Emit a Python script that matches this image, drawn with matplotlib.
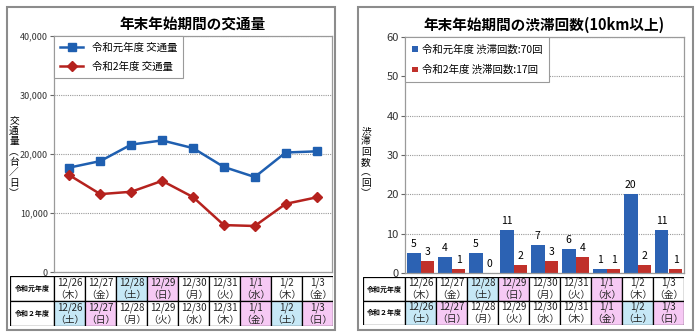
import matplotlib
matplotlib.use("Agg")
import matplotlib.pyplot as plt
from matplotlib.patches import Rectangle
from matplotlib.ticker import FuncFormatter

plt.rcParams['font.family'] = ['Noto Sans CJK JP', 'DejaVu Sans']

dates = ["12/26", "12/27", "12/28", "12/29", "12/30", "12/31", "1/1", "1/2", "1/3"]
days_r1 = ["木", "金", "土", "日", "月", "火", "水", "木", "金"]
days_r2 = ["土", "日", "月", "火", "水", "木", "金", "土", "日"]
# cell shading: 0 none, 1 blue (sat), 2 pink (sun/holiday)
shade_r1 = [0, 0, 1, 2, 0, 0, 2, 0, 0]
shade_r2 = [1, 2, 0, 0, 0, 0, 2, 1, 2]

traffic_r1 = [17700, 18800, 21600, 22300, 21000, 17800, 16100, 20250, 20450]
traffic_r2 = [16400, 13200, 13600, 15450, 12700, 7950, 7800, 11550, 12650]

jam_r1 = [5, 4, 5, 11, 7, 6, 1, 20, 11]
jam_r2 = [3, 1, 0, 2, 3, 4, 1, 2, 1]

row_labels = ["令和元年度", "令和２年度"]

W, H = 700, 335
fig = plt.figure(figsize=(7, 3.35), dpi=100)

def box(x0, y0, x1, y1):
    return [x0 / W, 1 - y1 / H, (x1 - x0) / W, (y1 - y0) / H]

shade_col = {0: "white", 1: "#c6e8f6", 2: "#f6c9f4"}
BLUE_L = "#1f5fb0"
RED_L = "#b5221e"
BLUE_B = "#2c62b3"
RED_B = "#c0312b"

# panel frames
for x0, x1 in [(7, 335), (358, 693)]:
    fig.patches.append(Rectangle((x0 / W, 1 - 330 / H), (x1 - x0) / W, 323 / H,
                                 transform=fig.transFigure, fill=False,
                                 edgecolor="#8c8c8c", lw=1.5))

def style_axes(ax):
    for s in ax.spines.values():
        s.set_color("#9a9a9a")
        s.set_linewidth(0.9)
    ax.yaxis.grid(True, linestyle=(0, (1, 1)), color="#9a9a9a", lw=0.8)
    ax.set_axisbelow(True)
    ax.set_xticks([])
    ax.tick_params(axis="y", direction="out", length=3, width=0.8,
                   color="#666666", labelcolor="#333333", pad=1.5)
    ax.set_xlim(-0.5, len(dates) - 0.5)

def draw_table(x0, x1, xlab, y0, y1):
    n = len(dates)
    ax = fig.add_axes(box(x0, y0, x1, y1))
    unit = (x1 - xlab) / n
    lw_units = (xlab - x0) / unit
    ax.set_xlim(-0.5 - lw_units, n - 0.5)
    ax.set_ylim(2, 0)
    ax.axis("off")
    for r, (days, shades) in enumerate([(days_r1, shade_r1), (days_r2, shade_r2)]):
        ax.add_patch(Rectangle((-0.5 - lw_units, r), lw_units, 1, facecolor="white",
                               edgecolor="black", lw=0.9))
        ax.text(-0.5 - lw_units / 2, r + 0.5, row_labels[r], ha="center", va="center",
                fontsize=5, fontweight="bold")
        for i in range(n):
            ax.add_patch(Rectangle((i - 0.5, r), 1, 1, facecolor=shade_col[shades[i]],
                                   edgecolor="black", lw=0.9))
            ax.text(i, r + 0.5, dates[i] + "\n（" + days[i] + "）", ha="center",
                    va="center", fontsize=7, linespacing=1.25, color="#222222")
    return ax

# ---- left: traffic volume
ax1 = fig.add_axes(box(54, 36, 332, 272))
style_axes(ax1)
x = list(range(len(dates)))
ax1.plot(x, traffic_r1, color=BLUE_L, lw=1.8, marker="s", ms=5.5, label="令和元年度 交通量")
ax1.plot(x, traffic_r2, color=RED_L, lw=1.8, marker="D", ms=5, label="令和2年度 交通量")
ax1.set_ylim(0, 40000)
ax1.set_yticks([0, 10000, 20000, 30000, 40000])
ax1.yaxis.set_major_formatter(FuncFormatter(lambda v, p: f"{int(v):,}"))
ax1.tick_params(axis="y", labelsize=6.5)
ax1.set_title("年末年始期間の交通量", fontsize=10.5, fontweight="bold", pad=5)
leg1 = ax1.legend(loc="upper left", bbox_to_anchor=(0, 1), borderaxespad=0,
                  fontsize=7.5, fancybox=False, edgecolor="#9a9a9a", framealpha=1,
                  handlelength=2.2, borderpad=0.6, labelspacing=0.9)
leg1.get_frame().set_linewidth(0.8)
fig.text(14 / W, 1 - 157 / H, "\n".join("交通量︵台／日︶"), ha="center", va="center",
         fontsize=7, linespacing=1.05)
draw_table(10, 333, 54, 276, 326)

# ---- right: congestion count
ax2 = fig.add_axes(box(405, 37, 684, 273))
style_axes(ax2)
bw = 0.45
xb1 = [i - bw / 2 for i in x]
xb2 = [i + bw / 2 for i in x]
b1 = ax2.bar(xb1, jam_r1, width=bw, color=BLUE_B, label="令和元年度 渋滞回数:70回")
b2 = ax2.bar(xb2, jam_r2, width=bw, color=RED_B, label="令和2年度 渋滞回数:17回")
ax2.bar_label(b1, padding=3, fontsize=7.5)
ax2.bar_label(b2, padding=3, fontsize=7.5)
ax2.set_ylim(0, 60)
ax2.set_yticks([0, 10, 20, 30, 40, 50, 60])
ax2.tick_params(axis="y", labelsize=8)
ax2.set_title("年末年始期間の渋滞回数(10km以上)", fontsize=10.5, fontweight="bold", pad=5)
leg2 = ax2.legend(loc="upper left", bbox_to_anchor=(0, 1), borderaxespad=0,
                  fontsize=7.5, fancybox=False, edgecolor="#9a9a9a", framealpha=1,
                  handlelength=0.5, handleheight=0.5, borderpad=0.7, labelspacing=1.0,
                  handletextpad=0.4)
leg2.get_frame().set_linewidth(0.8)
fig.text(366 / W, 1 - 162 / H, "\n".join("渋滞回数︵回︶"), ha="center", va="center",
         fontsize=7, linespacing=1.05)
draw_table(363, 684, 405, 277, 325)

fig.savefig("out.png", dpi=100)
